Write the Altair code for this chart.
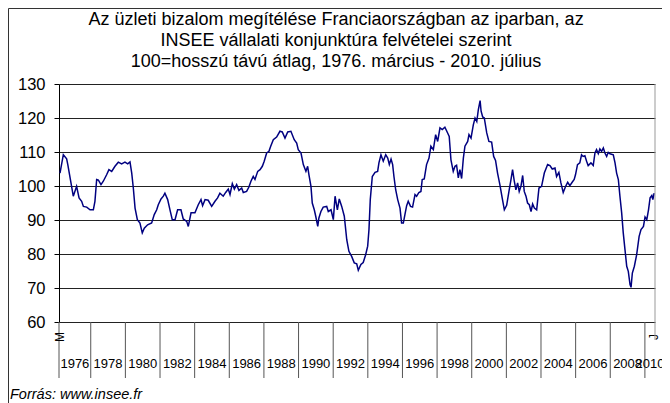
import altair as alt
import pandas as pd

# months since start of March 1976 (position) and index values
MONTHS = [0.7, 3, 5.3, 6.1, 8.3, 9.9, 12.2, 13.9, 15.7, 16.9, 19.2, 21.5, 23.8, 24.9, 26.1, 27.3, 29.1, 30.7, 33, 34.6,
          36.5, 38.8, 41.1, 43.4, 45.7, 47.6, 49.2, 50.4, 51.5, 52.7, 54.3, 56.1, 57.7, 59.1, 61.4, 64.2, 66, 67.7, 68.8,
          70.7, 72.3, 73.4, 75.3, 76.9, 78.5, 80.4, 82.2, 83.8,
          84.5, 86.1, 88.5, 89.6, 91.5, 94.2, 96.5, 98.4, 99.5, 101.2, 103.4, 105.8, 108.1, 109.9, 111.5, 113.8, 115.5,
          117.3, 118.5, 120.1, 121.5, 123.1, 124.7, 126.6, 127.7, 130, 131.6, 133, 134.6, 135.8, 137.7, 139.3, 140.9,
          142.2, 143.9, 145.5, 146.7, 148.5, 150.8, 153.1, 154.7, 156.6, 158.5, 160.7, 163, 164.7,
          165.8, 167.7, 169.3, 171.1, 172.3, 173.2, 174.6, 175.5, 176.9, 177.9, 179.3, 180.1, 181.5, 183.1, 185.5, 186.6,
          188.5, 190.1, 191.3, 192.9, 194.2, 195.9, 197.7, 199.4, 200.9, 202.8, 204.6, 206.3, 207.4, 209.2, 210.8, 212.5,
          213.9, 214.8, 215.7, 217.1, 219, 220.8, 221.7, 223.1, 224.7, 226.4, 227.8, 228.9, 230.1, 231.2, 232.1, 233.3,
          234.7, 236.3, 237.4, 238.6, 239.7, 240.9, 242, 243.6, 245, 246.7, 247.8, 249.4,
          250.8, 251.7, 253.1, 254.7, 256.4, 257.7, 259.4, 261, 262.4, 264, 265.6, 267.4, 269.3, 270.4, 271.6, 273.2,
          274.4, 275.5, 276.7, 277.8, 279, 280.2, 281.3, 283.2, 284.1, 285.5, 287.1, 288.3, 289.5, 290.6, 291.8, 292.5,
          293.6, 294.7, 296.4, 297.9, 299.8, 301.2, 302.5, 303.9, 305.5, 307.1, 308.6, 310.2, 311.8, 313.2, 314.3, 315.5,
          316.6, 317.8, 318.9, 320.1, 321.3, 322.4, 323.6, 324.7, 325.9, 327.1, 328.2, 329.4,
          331, 332.6, 334.4, 336.3, 338.6, 340.2, 341.8, 343.7, 344.8, 346.4, 347.8, 349.4, 351.1, 352.5, 354, 355.6,
          357, 357.9, 359.3, 360.9, 362.1, 363.2, 364.4, 365.6, 366.7, 368.6, 370.2, 371.4, 372.5, 373.7, 374.8, 376,
          377.2, 378.3, 379.5, 380.6, 381.8, 384.1, 385.3, 386.4, 387.6, 388.7, 389.9, 391, 392.2, 393.4, 394.5, 395.7,
          396.4, 397.3, 398.7, 400.3, 402, 403.3, 405, 406.1, 407.3, 408.5, 409.6, 410.8, 411.5, 412.4]

VALUES = [103.8, 109.2, 108, 106.3, 100.9, 97, 99.9, 96.5, 95.5, 94, 93.8, 93, 93, 95.5, 101.9, 101.7, 100.4, 101.4, 103.3, 104.8,
          104.3, 105.8, 107, 106.5, 107, 106.5, 107.1, 103.8, 99.4, 93.5, 90.1, 89.1, 86.2, 87.6, 88.6, 89.1, 91.6, 93, 94.5,
          96.2, 97, 97.9, 96, 93, 90.1, 90.1, 93, 93,
          93, 90.3, 89.6, 88.1, 92.1, 92.1, 94.5, 96, 94.2, 96, 95.8, 94, 95.5, 96.5, 97.9, 97, 98.1,
          99.1, 97.5, 100.7, 99.1, 100.4, 98.7, 99.4, 98.1, 98.4, 99.7, 101.4, 102.8, 101.9, 104.3, 104.8, 105.8,
          107.3, 109.7, 110.2, 111.7, 113.6, 114.4, 116.1, 115.9, 114.1, 115.9, 116.1, 113.6, 112.6,
          110.7, 109.7, 106.3, 104.3, 105.8, 103.3, 99.9, 95, 93, 91.1, 88.1, 90.6, 92.5, 93.8, 94, 92.5,
          93, 90.1, 97, 93, 96.2, 94, 91.1, 84.2, 80.8, 79.3, 77.4, 77.1, 75.2, 76.9, 77.5, 79.8,
          82.3, 87.2, 96, 102.8, 104, 104.3, 106.8, 109.2, 107.3, 109.2, 108.2, 106.3, 107.9, 106.3, 102.8, 98.9,
          96, 93.5, 89.1, 89.1, 91.6, 94.2, 95.5, 94, 93.8, 97.5, 97, 98.1,
          98.4, 101.9, 102.1, 106.3, 108.2, 111.7, 110.7, 115.1, 113.1, 117.1, 116.6, 117.3, 115.6, 114.6, 107.7, 104.3,
          105.8, 106.1, 102.4, 104.8, 102.2, 108.2, 111.7, 113.1, 115.1, 114.1, 118, 120, 119, 122.5, 125.1, 122,
          120.3, 120, 115.6, 113.1, 112.9, 108.7, 107.5, 103.8, 100.4, 96.5, 93, 94.3, 98.4, 101.9, 104.8, 101.4,
          98.9, 100.9, 98.4, 99.9, 103.1, 98.4, 97, 95, 94.5, 92.5, 94.7, 93.5,
          93, 99.4, 99.9, 103.8, 106.3, 106, 105, 105.3, 102.8, 104, 100.9, 98.1, 99.9, 101.1, 100.1, 101.1,
          101.9, 103.3, 106.3, 106.8, 109.2, 108.7, 108.9, 107.3, 106, 106.8, 106, 109.7, 110.7, 109.5, 110.9, 110.2,
          111.2, 109.7, 108.7, 109.9, 109.5, 109.2, 106.8, 103.8, 101.9, 97, 92.1, 86.2, 81.3, 76.4, 74.9, 71,
          70.2, 74.4, 76.4, 79.8, 85.2, 87.2, 88.1, 90.9, 90.1, 93, 96.5, 97.2, 96, 97.9]

YEAR_LABELS = ["1976", "1978", "1980", "1982", "1984", "1986", "1988", "1990", "1992",
               "1994", "1996", "1998", "2000", "2002", "2004", "2006", "2008", "2010"]
MONTH_LABELS = ["M", "J"]
Y_TICKS = [60, 70, 80, 90, 100, 110, 120, 130]

TITLE = ["Az üzleti bizalom megítélése Franciaországban az iparban, az",
         "INSEE vállalati konjunktúra felvételei szerint",
         "100=hosszú távú átlag, 1976. március - 2010. július"]
SOURCE = "Forrás: www.insee.fr"

N_MONTHS = 413  # March 1976 .. July 2010
FONT = "Liberation Sans"

# category boundaries (start of each labelled two-year group) in months since March 1976
starts = [0] + [(int(y) - 1976) * 12 - 2 for y in YEAR_LABELS[1:]]
ends = starts[1:] + [N_MONTHS]
groups = pd.DataFrame({"label": YEAR_LABELS, "start": starts,
                       "center": [(a + b) / 2 for a, b in zip(starts, ends)]})
months = pd.DataFrame({"label": MONTH_LABELS, "t": [0.5, N_MONTHS - 0.5]})
series = pd.DataFrame({"t": MONTHS, "v": VALUES})
one = pd.DataFrame({"a": [0]})

xscale = alt.Scale(domain=[0, N_MONTHS], nice=False, zero=False)
yscale = alt.Scale(domain=[60, 130], nice=False, zero=False)

W, H = 596, 238

line = alt.Chart(series).mark_line(color="#000080", strokeWidth=1.5).encode(
    x=alt.X("t:Q", scale=xscale,
            axis=alt.Axis(title=None, labels=False, ticks=False, grid=False,
                          domain=True, domainColor="#000000", domainWidth=1)),
    y=alt.Y("v:Q", scale=yscale,
            axis=alt.Axis(title=None, values=Y_TICKS, grid=True, gridColor="#222222", gridWidth=1,
                          domain=True, domainColor="#000000", tickColor="#000000", tickSize=5,
                          labelFont=FONT, labelFontSize=16.5, labelColor="#000000", labelPadding=9)),
)

seps = alt.Chart(groups).mark_rule(color="#555555", strokeWidth=1).encode(
    x=alt.X("start:Q", scale=xscale, axis=None),
    y=alt.value(H), y2=alt.value(H + 56),
)

year_text = alt.Chart(groups).mark_text(font=FONT, fontSize=13, color="#000000",
                                        align="center", baseline="middle").encode(
    x=alt.X("center:Q", scale=xscale, axis=None),
    y=alt.value(H + 42),
    text="label:N",
)

month_text = alt.Chart(months).mark_text(font=FONT, fontSize=12, color="#000000", angle=270,
                                         align="center", baseline="middle").encode(
    x=alt.X("t:Q", scale=xscale, axis=None),
    y=alt.value(H + 15),
    text="label:N",
)

right_edge = alt.Chart(one).mark_rule(color="#999999", strokeWidth=1).encode(
    x=alt.value(W), y=alt.value(0), y2=alt.value(H + 18),
)

title = alt.Chart(one).mark_text(font=FONT, fontSize=18, color="#000000", align="center",
                                 baseline="top", lineHeight=21).encode(
    x=alt.value(277), y=alt.value(-73), text=alt.value(TITLE),
)

source = alt.Chart(one).mark_text(font=FONT, fontSize=14.5, fontStyle="italic", color="#000000",
                                  align="left", baseline="middle").encode(
    x=alt.value(-49), y=alt.value(H + 73), text=alt.value(SOURCE),
)

frame = alt.Chart(one).mark_rect(filled=False, stroke="#333333", strokeWidth=1).encode(
    x=alt.value(-50.5), x2=alt.value(W + 7.5), y=alt.value(-75.5), y2=alt.value(H + 100),
)

chart = alt.layer(frame, line, seps, year_text, month_text, right_edge, title, source).properties(
    width=W, height=H,
    autosize=alt.AutoSizeParams(type="none"),
    padding={"left": 51, "top": 76, "right": 7, "bottom": 84},
).configure_view(strokeOpacity=0)

chart.save("out.html", embed_options={"renderer": "svg", "actions": False})
